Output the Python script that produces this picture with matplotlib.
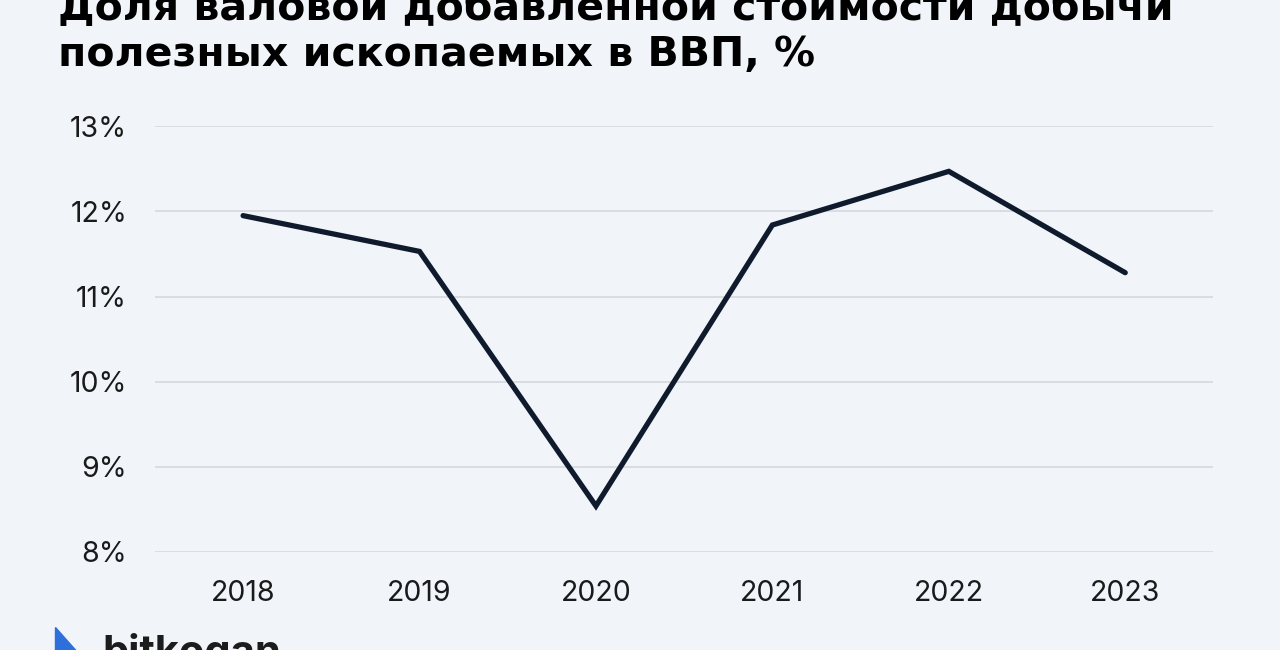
import matplotlib.pyplot as plt
from matplotlib.patches import Polygon

years = ["2018", "2019", "2020", "2021", "2022", "2023"]
share = [11.95, 11.53, 8.54, 11.84, 12.47, 11.28]
y_ticks = [8, 9, 10, 11, 12, 13]

BG = "#f1f5fa"
LINE = "#0f1b2d"
TEXT = "#1a1a1a"

fig = plt.figure(figsize=(12.8, 6.5), dpi=100, facecolor=BG)
ax = fig.add_axes([0.121, 0.1508, 0.827, 0.655], facecolor=BG)

x = range(len(years))
ax.plot(x, share, color=LINE, lw=3.8, solid_capstyle="round", solid_joinstyle="miter", zorder=3)

ax.set_xlim(-0.5, len(years) - 0.5)
ax.set_ylim(8, 13)
ax.set_yticks(y_ticks)
ax.set_yticklabels(["%d%%" % v for v in y_ticks])
ax.set_xticks(list(x))
ax.set_xticklabels(years)
ax.grid(axis="y", color="#d5d9df", lw=1.2)
ax.set_axisbelow(True)
ax.tick_params(length=0, labelsize=20.5, colors=TEXT)
ax.tick_params(axis="y", pad=20)
ax.tick_params(axis="x", pad=20)
for s in ax.spines.values():
    s.set_visible(False)
for lbl in ax.get_xticklabels() + ax.get_yticklabels():
    lbl.set_fontfamily(["Inter", "DejaVu Sans"])

title = "Доля валовой добавленной стоимости добычи\nполезных ископаемых в ВВП, %"
fig.text(0.045, 0.885, title, fontsize=29.5, fontweight="bold", color="#000000",
         family=["Liberation Sans Narrow", "DejaVu Sans"], va="bottom", ha="left",
         linespacing=1.2)

# logo at the bottom, partly cut off
icon = Polygon([[0.043, 0.035], [0.043, -0.02], [0.068, -0.02]], closed=True,
               transform=fig.transFigure, color="#2f6fdb")
fig.add_artist(icon)
fig.text(0.08, -0.035, "bitkogan", fontsize=30, fontweight="bold", color="#1c1c1c",
         family=["Inter", "DejaVu Sans"], va="bottom", ha="left")

fig.savefig("out.png", dpi=100, facecolor=BG)
